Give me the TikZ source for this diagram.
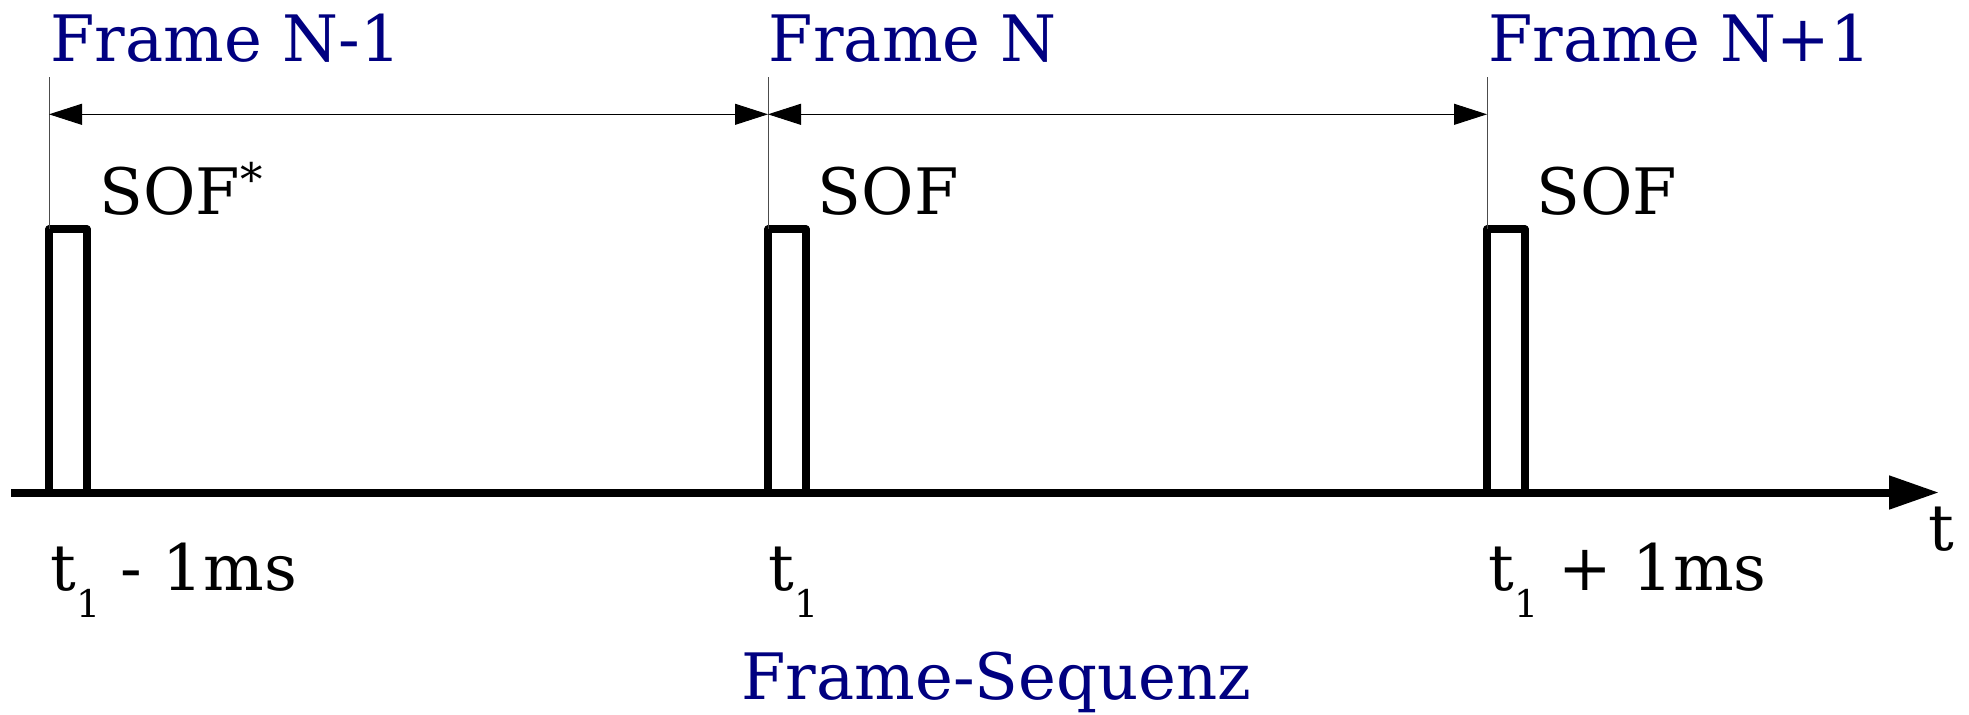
\documentclass[tikz,border=0pt]{standalone}
\usepackage{fontspec}
\setmainfont{DejaVu Serif}
\usetikzlibrary{arrows.meta,calc}
\definecolor{navy}{RGB}{0,0,128}
\newcommand{\lowsub}[1]{\raisebox{-13.5pt}{\fontsize{19}{19}\selectfont #1}}
\begin{document}
\begin{tikzpicture}[x=0.5pt,y=-0.5pt,
  lbl/.style={anchor=base west,inner sep=0pt,font=\fontsize{32}{36}\selectfont},
  ttl/.style={lbl,text=navy},
  pulse/.style={line width=3.6pt,line join=round},
  axis/.style={line width=4pt,-{Triangle[length=25pt,width=16pt]}},
  marker/.style={line width=0.5pt,draw=black!70},
  span/.style={line width=0.5pt,{Triangle[length=16.5pt,width=10.5pt]}-{Triangle[length=16.5pt,width=10.5pt]}}
]
\useasboundingbox (0,0) rectangle (1969,714);
% pulse positions
\coordinate (a1) at (49,492.5);
\coordinate (a2) at (768,492.5);
\coordinate (a3) at (1487,492.5);
% axis
\coordinate (ax0) at (11.3,492.5);
\coordinate (ax1) at (1939,492.5);
\draw[axis] (ax0) -- (ax1);
% pulses and markers
\foreach \i in {1,2,3}{
  \draw[pulse] (a\i) -- ++(0,-263.5) -- ++(38,0) -- ++(0,263.5);
  \coordinate (top\i) at ($(a\i)+(0,-263.5)$);
  \coordinate (m\i) at ($(a\i)+(0,-415.5)$);
  \coordinate (s\i) at ($(a\i)+(0,-378.2)$);
  \draw[marker] (m\i) -- (top\i);
}
\draw[span] (s1) -- (s2);
\draw[span] (s2) -- (s3);
% titles
\node[ttl] (f1) at (50,61.5) {Frame N-1};
\node[ttl] (f2) at (768.5,61.5) {Frame N};
\node[ttl] (f3) at (1488,61.5) {Frame N+1};
% SOF
\node[lbl] (sof1) at (99,214) {SOF\textsuperscript{*}};
\node[lbl] (sof2) at (817.5,214) {SOF};
\node[lbl] (sof3) at (1535.8,214) {SOF};
% time labels
\node[lbl] (t1) at (50.2,590) {t\lowsub{1} - 1ms};
\node[lbl] (t2) at (768.5,590) {t\lowsub{1}};
\node[lbl] (t3) at (1488,590) {t\lowsub{1} + 1ms};
\node[lbl] (tt) at (1928,550) {t};
% caption
\node[ttl] (cap) at (741,699) {Frame-Sequenz};
\end{tikzpicture}
\end{document}
